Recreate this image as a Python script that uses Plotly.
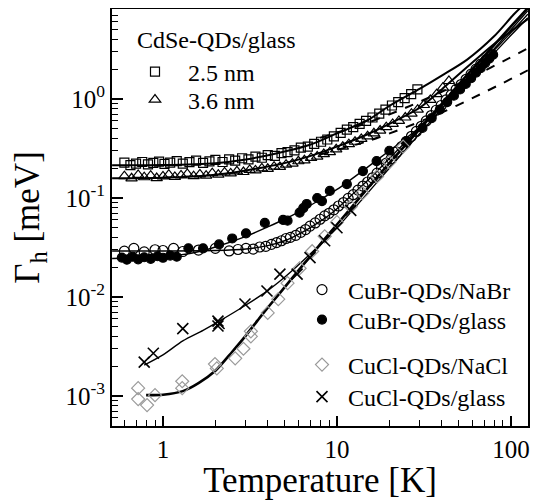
import plotly.graph_objects as go

# ---------------- data ----------------
# CdSe-QDs/glass 2.5 nm (open squares)
cdse25_T = [0.6, 0.65, 0.7, 0.76, 0.82, 0.88, 0.95, 1.02, 1.1, 1.2, 1.3, 1.42, 1.55, 1.7, 1.85, 2.0,
            2.2, 2.4, 2.6, 2.85, 3.1, 3.4, 3.7, 4.0, 4.4, 4.8, 5.2, 5.7, 6.2, 6.8, 7.4, 8.1, 8.8, 9.6,
            10.5, 11.4, 12.4, 13.5, 14.7, 16, 17.5, 19, 20.7, 22.5, 24.5, 26.7, 29]
cdse25_G = [0.228, 0.215, 0.222, 0.231, 0.219, 0.226, 0.233, 0.221, 0.228, 0.236, 0.222, 0.23, 0.238,
            0.226, 0.234, 0.243, 0.231, 0.245, 0.238, 0.252, 0.246, 0.262, 0.255, 0.271, 0.266, 0.284,
            0.291, 0.302, 0.322, 0.33, 0.352, 0.37, 0.39, 0.42, 0.455, 0.49, 0.52, 0.56, 0.6, 0.65,
            0.71, 0.78, 0.86, 0.93, 1.02, 1.12, 1.25]
# CdSe-QDs/glass 3.6 nm (open triangles)
cdse36_T = [0.6, 0.66, 0.72, 0.78, 0.85, 0.92, 1.0, 1.08, 1.17, 1.27, 1.38, 1.5, 1.63, 1.77, 1.92, 2.08,
            2.26, 2.45, 2.66, 2.9, 3.15, 3.4, 3.7, 4.0, 4.35, 4.7, 5.1, 5.55, 6.0, 6.5, 7.1, 7.7, 8.4,
            9.1, 9.9, 10.8, 11.7, 12.7, 13.8, 15, 16.3, 17.7, 19.2, 20.9, 22.7, 24.7, 26.8, 29.1, 31.6,
            34.4, 37.4, 40.6, 44]
cdse36_G = [0.166, 0.158, 0.171, 0.162, 0.168, 0.159, 0.165, 0.172, 0.163, 0.169, 0.175, 0.166, 0.173,
            0.168, 0.178, 0.172, 0.181, 0.177, 0.186, 0.183, 0.192, 0.19, 0.199, 0.197, 0.207, 0.206,
            0.217, 0.222, 0.235, 0.24, 0.254, 0.262, 0.278, 0.29, 0.31, 0.33, 0.35, 0.37, 0.395, 0.42,
            0.45, 0.48, 0.52, 0.56, 0.6, 0.65, 0.71, 0.78, 0.87, 0.98, 1.12, 1.3, 1.52]
# CuBr-QDs/NaBr (open circles)
cubr_nabr_T = [0.6, 0.68, 0.78, 0.9, 1.0, 1.15, 1.3, 1.6, 2.0, 2.4, 2.7, 3.0, 3.3, 3.6, 3.9, 4.2, 4.5,
               4.8, 5.1, 5.4, 5.8, 6.2, 6.6, 7.0, 7.5, 8.0, 8.5, 9.0, 9.6, 10.2, 10.9, 11.6, 12.4, 13.2,
               14.1, 15, 16, 17, 18, 19.2, 20.5, 22, 23.5, 25, 26.8, 28.6, 30.5, 32.6, 34.8, 37.2, 39.7,
               42.4, 45.3, 48.4, 51.7, 55.2, 59, 63, 67, 72, 77]
cubr_nabr_G = [0.029, 0.031, 0.0285, 0.03, 0.0295, 0.031, 0.0288, 0.0298, 0.031, 0.0292, 0.0302, 0.031,
               0.0305, 0.032, 0.0325, 0.034, 0.0355, 0.037, 0.039, 0.04, 0.042, 0.045, 0.048, 0.052,
               0.056, 0.061, 0.066, 0.07, 0.076, 0.083, 0.09, 0.099, 0.108, 0.12, 0.132, 0.145, 0.16,
               0.178, 0.2, 0.225, 0.25, 0.29, 0.33, 0.37, 0.42, 0.47, 0.53, 0.6, 0.68, 0.77, 0.86, 0.98,
               1.1, 1.25, 1.4, 1.58, 1.78, 2.0, 2.25, 2.5, 2.8]
# CuBr-QDs/glass (filled circles)
cubr_gl_T = [0.58, 0.62, 0.67, 0.72, 0.78, 0.85, 0.93, 1.0, 1.1, 1.2, 1.4, 1.7, 2.1, 2.5, 3.0, 3.85,
             4.9, 5.2, 6.1, 6.4, 6.7, 7.7, 8.2, 9.1, 11.4, 14.1, 16.9, 20, 25, 31, 35, 39, 43, 47,
             51, 55, 59, 63, 67, 71, 75, 79]
cubr_gl_G = [0.025, 0.0238, 0.0255, 0.024, 0.0252, 0.0243, 0.0258, 0.0249, 0.0262, 0.0255, 0.031, 0.031,
             0.034, 0.039, 0.044, 0.056, 0.06, 0.059, 0.071, 0.079, 0.087, 0.1, 0.093, 0.118, 0.138,
             0.187, 0.236, 0.3, 0.376, 0.51, 0.64, 0.78, 0.93, 1.08, 1.25, 1.42, 1.62, 1.85, 2.05, 2.3,
             2.55, 2.8]
# CuCl-QDs/NaCl (grey diamonds)
cucl_nacl_T = [0.72, 0.72, 0.81, 0.9, 1.29, 1.29, 1.99, 2.04, 2.6, 2.9, 3.2, 3.2, 4.0, 4.6, 5.2, 6.1,
               7.2, 8.5, 10, 12, 14, 17, 20, 24]
cucl_nacl_G = [0.0012, 0.00093, 0.00081, 0.00102, 0.00141, 0.0012, 0.0021, 0.0019, 0.0024, 0.003,
               0.004, 0.0045, 0.0069, 0.0095, 0.0138, 0.0195, 0.029, 0.041, 0.057, 0.082, 0.112, 0.165,
               0.23, 0.33]
# CuCl-QDs/glass (crosses)
cucl_gl_T = [0.78, 0.88, 1.3, 2.07, 2.07, 2.1, 2.96, 3.96, 4.7, 5.9, 7.0, 8.5, 10, 12]
cucl_gl_G = [0.0022, 0.0027, 0.0048, 0.0057, 0.0051, 0.0054, 0.0085, 0.0115, 0.017, 0.017, 0.025,
             0.037, 0.05, 0.075]

# fit curves
fit25_T = [0.51, 1, 2, 3, 5, 7, 10, 15, 20, 30, 40, 56, 80, 105, 125]
fit25_G = [0.214, 0.215, 0.225, 0.245, 0.295, 0.345, 0.45, 0.61, 0.85, 1.27, 1.72, 2.5, 4.3, 7.3, 9.8]
fit36_T = [0.51, 1, 2, 3, 5, 7, 10, 15, 20, 30, 40, 56, 80, 125]
fit36_G = [0.158, 0.16, 0.172, 0.19, 0.225, 0.265, 0.33, 0.44, 0.56, 0.82, 1.25, 2.1, 3.6, 6.4]
lin25_T = [8, 15, 25, 40, 60, 90, 125]
lin25_G = [0.405, 0.575, 0.82, 1.18, 1.67, 2.4, 3.25]
lin36_T = [8, 15, 25, 40, 60, 90, 125]
lin36_G = [0.275, 0.375, 0.52, 0.73, 1.02, 1.45, 1.95]
fitnabr_T = [0.51, 2, 3, 4, 5, 6, 7, 8, 9, 10, 12, 15, 20, 30, 45, 60, 80, 100, 125]
fitnabr_G = [0.0292, 0.0295, 0.0305, 0.033, 0.037, 0.043, 0.05, 0.058, 0.067, 0.078, 0.105, 0.15, 0.25,
             0.52, 1.1, 1.85, 3.1, 4.7, 7.2]
fitbrgl_T = [0.51, 1, 1.5, 2, 3, 4, 5, 6, 8, 10, 15, 20, 30, 45, 60, 80, 100, 125]
fitbrgl_G = [0.0245, 0.0255, 0.028, 0.032, 0.041, 0.051, 0.061, 0.072, 0.096, 0.122, 0.205, 0.3, 0.52,
             1.05, 1.75, 2.9, 4.4, 6.6]
fitnacl_T = [0.8, 1, 1.3, 1.6, 2, 2.5, 3, 3.5, 4, 5, 6, 7, 8, 10, 15, 20, 30, 45, 60, 80, 100, 125]
fitnacl_G = [0.00102, 0.00103, 0.00112, 0.00135, 0.0018, 0.0028, 0.0041, 0.0058, 0.0078, 0.0125,
             0.0185, 0.0255, 0.034, 0.054, 0.125, 0.225, 0.5, 1.13, 2.0, 3.5, 5.4, 8.3]
fitclgl_T = [0.78, 1, 1.3, 1.7, 2.07, 3, 4, 5, 6, 8, 10, 15, 20, 30, 45, 60, 80, 100, 125]
fitclgl_G = [0.00205, 0.0026, 0.0036, 0.0046, 0.0056, 0.0083, 0.0116, 0.0158, 0.021, 0.034, 0.05,
             0.112, 0.2, 0.45, 1.0, 1.8, 3.2, 5.0, 7.8]

y_tickvals = [0.001, 0.01, 0.1, 1]
y_ticktext = ["10<sup>-3</sup>", "10<sup>-2</sup>", "10<sup>-1</sup>", "10<sup>0</sup>"]
x_tickvals = [1, 10, 100]
x_ticktext = ["1", "10", "100"]

FONT = "Liberation Serif, Times New Roman, serif"

# ---- layout geometry (page pixels; the page body has an 8 px margin) ----
W, H = 532, 492
ML, MR, MT, MB = 104, 12, 1, 74
PW, PH = W - ML - MR, H - MT - MB


def px(xp):  # page x -> paper x
    return (xp - 8 - ML) / PW


def py(yp):  # page y -> paper y
    return 1 - (yp - 8 - MT) / PH


fig = go.Figure()


def fit(T, G, width, dash="solid"):
    fig.add_trace(go.Scatter(x=T, y=G, mode="lines", line=dict(color="black", width=width, dash=dash,
                                                              shape="spline", smoothing=0.8),
                             showlegend=False, hoverinfo="skip"))


fit(fit25_T, fit25_G, 2)
fit(fit36_T, fit36_G, 2)
fit(lin25_T, lin25_G, 2, "dash")
fit(lin36_T, lin36_G, 2, "dash")
fit(fitnabr_T, fitnabr_G, 1.4)
fit(fitbrgl_T, fitbrgl_G, 1.4)
fit(fitnacl_T, fitnacl_G, 2.6)
fit(fitclgl_T, fitclgl_G, 1.4)


def pts(T, G, name, symbol, size, legend, color="black", lw=1.2):
    fig.add_trace(go.Scatter(x=T, y=G, mode="markers", name=name, legend=legend,
                             marker=dict(symbol=symbol, size=size, color=color,
                                         line=dict(color=color, width=lw))))


pts(cdse25_T, cdse25_G, "2.5 nm", "square-open", 9, "legend")
pts(cdse36_T, cdse36_G, "3.6 nm", "triangle-up-open", 10, "legend2")
pts(cubr_nabr_T, cubr_nabr_G, "CuBr-QDs/NaBr", "circle-open", 10, "legend3")
pts(cubr_gl_T, cubr_gl_G, "CuBr-QDs/glass", "circle", 9, "legend4")
pts(cucl_nacl_T, cucl_nacl_G, "CuCl-QDs/NaCl", "diamond-open", 10, "legend5", color="#9a9a9a")
pts(cucl_gl_T, cucl_gl_G, "CuCl-QDs/glass", "x-thin-open", 11, "legend6", lw=1.6)

minor_x = [k * 10 ** e for e in (-1, 0, 1, 2) for k in range(2, 10)]
minor_y = [k * 10 ** e for e in (-4, -3, -2, -1, 0) for k in range(2, 10)]


def leg(x_marker, y_center, iw):
    return dict(x=px(x_marker - (iw / 2 + 3)), y=py(y_center), xanchor="left", yanchor="middle",
                bgcolor="rgba(0,0,0,0)", font=dict(size=24, family=FONT), itemwidth=iw,
                itemclick=False, itemdoubleclick=False)


fig.update_layout(
    width=W, height=H,
    margin=dict(l=ML, r=MR, t=MT, b=MB),
    paper_bgcolor="white", plot_bgcolor="white",
    font=dict(family=FONT, color="black", size=23),
    xaxis=dict(type="log", range=[-0.293, 2.098], tickmode="array", tickvals=x_tickvals,
               ticktext=x_ticktext, ticks="inside", ticklen=10, tickwidth=1.5, tickcolor="black",
               showline=True, linecolor="black", linewidth=2, mirror=True, showgrid=False,
               zeroline=False, tickfont=dict(size=25, family=FONT), automargin=False,
               minor=dict(tickmode="array", tickvals=minor_x, ticks="inside", ticklen=6,
                          tickwidth=1.3, tickcolor="black", showgrid=False),
               title=dict(text="Temperature [K]", font=dict(size=35, family=FONT), standoff=10)),
    yaxis=dict(type="log", range=[-3.303, 0.909], tickmode="array", tickvals=y_tickvals,
               ticktext=y_ticktext, ticks="inside", ticklen=11, tickwidth=1.5, tickcolor="black",
               showline=True, linecolor="black", linewidth=2, mirror=True, showgrid=False,
               zeroline=False, tickfont=dict(size=25, family=FONT), automargin=False,
               minor=dict(tickmode="array", tickvals=minor_y, ticks="inside", ticklen=6,
                          tickwidth=1.3, tickcolor="black", showgrid=False),
               title=dict(text="Γ<sub>h</sub> [meV]", font=dict(size=35, family=FONT))),
    legend=leg(153, 72, 56),
    legend2=leg(153, 100, 56),
    legend3=leg(320, 290, 42),
    legend4=leg(320, 320, 42),
    legend5=leg(320, 365, 42),
    legend6=leg(320, 397, 42),
    annotations=[dict(text="CdSe-QDs/glass", x=px(135), y=py(40), xref="paper", yref="paper",
                      xanchor="left", yanchor="middle", showarrow=False,
                      font=dict(size=24, family=FONT))],
)

fig.write_html("out.html")
